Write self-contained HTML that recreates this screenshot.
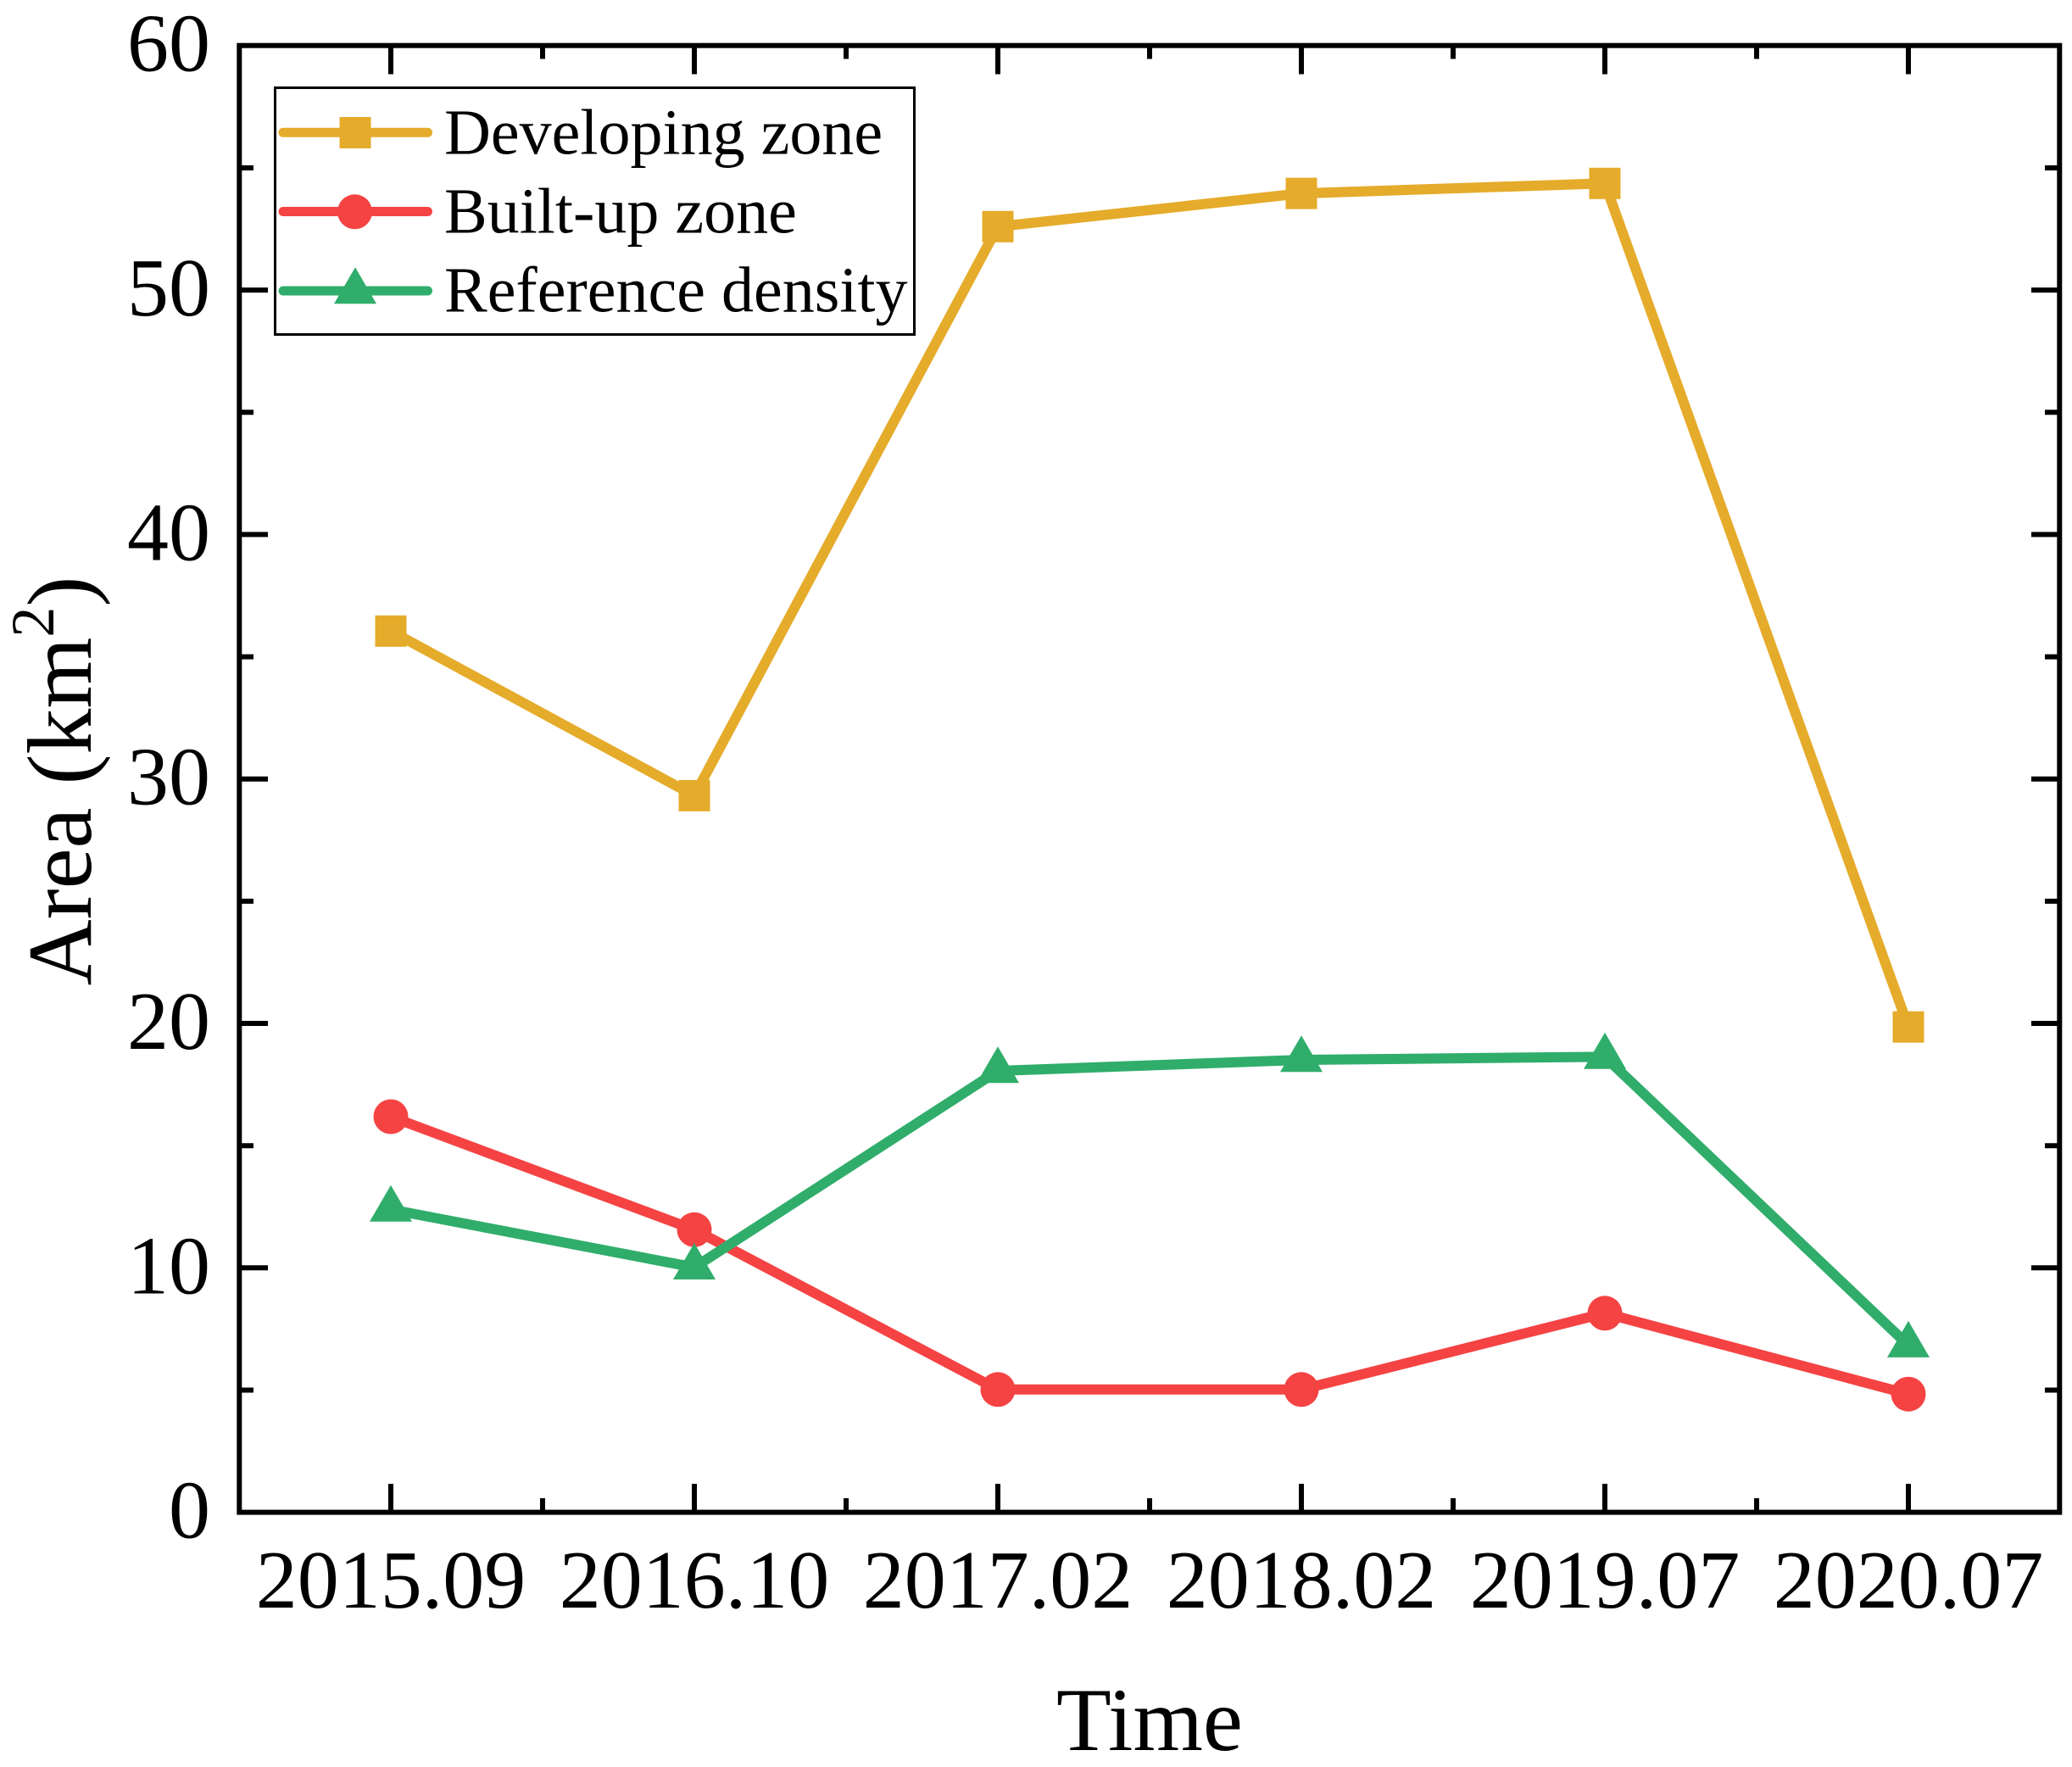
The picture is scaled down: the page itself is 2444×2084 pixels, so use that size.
<!DOCTYPE html>
<html>
<head>
<meta charset="utf-8">
<style>
  html, body { margin: 0; padding: 0; background: #ffffff; }
  svg { display: block; }
  text { font-family: "Liberation Serif", "Times New Roman", serif; fill: #000; }
</style>
</head>
<body>
<svg width="2444" height="2084" viewBox="0 0 2444 2084" xmlns="http://www.w3.org/2000/svg">
  <rect x="0" y="0" width="2444" height="2084" fill="#ffffff"/>

  <!-- Axis frame -->
  <rect x="282.3" y="53.7" width="2147" height="1729.9" fill="none" stroke="#000" stroke-width="6"/>

  <!-- Left axis ticks -->
  <g stroke="#000" stroke-width="6">
    <!-- major -->
    <line x1="282" y1="1495.3" x2="316" y2="1495.3"/>
    <line x1="282" y1="1207.0" x2="316" y2="1207.0"/>
    <line x1="282" y1="918.7" x2="316" y2="918.7"/>
    <line x1="282" y1="630.4" x2="316" y2="630.4"/>
    <line x1="282" y1="342.1" x2="316" y2="342.1"/>
    <!-- minor -->
    <line x1="282" y1="1639.5" x2="299" y2="1639.5"/>
    <line x1="282" y1="1351.2" x2="299" y2="1351.2"/>
    <line x1="282" y1="1062.9" x2="299" y2="1062.9"/>
    <line x1="282" y1="774.6" x2="299" y2="774.6"/>
    <line x1="282" y1="486.3" x2="299" y2="486.3"/>
    <line x1="282" y1="198.0" x2="299" y2="198.0"/>

    <!-- Right axis ticks -->
    <line x1="2430" y1="1495.3" x2="2396" y2="1495.3"/>
    <line x1="2430" y1="1207.0" x2="2396" y2="1207.0"/>
    <line x1="2430" y1="918.7" x2="2396" y2="918.7"/>
    <line x1="2430" y1="630.4" x2="2396" y2="630.4"/>
    <line x1="2430" y1="342.1" x2="2396" y2="342.1"/>
    <line x1="2430" y1="1639.5" x2="2412" y2="1639.5"/>
    <line x1="2430" y1="1351.2" x2="2412" y2="1351.2"/>
    <line x1="2430" y1="1062.9" x2="2412" y2="1062.9"/>
    <line x1="2430" y1="774.6" x2="2412" y2="774.6"/>
    <line x1="2430" y1="486.3" x2="2412" y2="486.3"/>
    <line x1="2430" y1="198.0" x2="2412" y2="198.0"/>

    <!-- Bottom axis ticks -->
    <line x1="461" y1="1784" x2="461" y2="1750"/>
    <line x1="819" y1="1784" x2="819" y2="1750"/>
    <line x1="1177" y1="1784" x2="1177" y2="1750"/>
    <line x1="1535" y1="1784" x2="1535" y2="1750"/>
    <line x1="1893" y1="1784" x2="1893" y2="1750"/>
    <line x1="2251" y1="1784" x2="2251" y2="1750"/>
    <line x1="640" y1="1784" x2="640" y2="1767"/>
    <line x1="998" y1="1784" x2="998" y2="1767"/>
    <line x1="1356" y1="1784" x2="1356" y2="1767"/>
    <line x1="1714" y1="1784" x2="1714" y2="1767"/>
    <line x1="2072" y1="1784" x2="2072" y2="1767"/>

    <!-- Top axis ticks -->
    <line x1="461" y1="53" x2="461" y2="87.5"/>
    <line x1="819" y1="53" x2="819" y2="87.5"/>
    <line x1="1177" y1="53" x2="1177" y2="87.5"/>
    <line x1="1535" y1="53" x2="1535" y2="87.5"/>
    <line x1="1893" y1="53" x2="1893" y2="87.5"/>
    <line x1="2251" y1="53" x2="2251" y2="87.5"/>
    <line x1="640" y1="53" x2="640" y2="69.5"/>
    <line x1="998" y1="53" x2="998" y2="69.5"/>
    <line x1="1356" y1="53" x2="1356" y2="69.5"/>
    <line x1="1714" y1="53" x2="1714" y2="69.5"/>
    <line x1="2072" y1="53" x2="2072" y2="69.5"/>
  </g>

  <!-- Y tick labels -->
  <g font-size="98" text-anchor="end">
    <text x="248" y="1813.5">0</text>
    <text x="248" y="1525.3">10</text>
    <text x="248" y="1237.0">20</text>
    <text x="248" y="948.7">30</text>
    <text x="248" y="660.4">40</text>
    <text x="248" y="372.1">50</text>
    <text x="248" y="83.5">60</text>
  </g>

  <!-- X tick labels -->
  <g font-size="98" text-anchor="middle">
    <text x="461" y="1896">2015.09</text>
    <text x="819" y="1896">2016.10</text>
    <text x="1177" y="1896">2017.02</text>
    <text x="1535" y="1896">2018.02</text>
    <text x="1893" y="1896">2019.07</text>
    <text x="2251" y="1896">2020.07</text>
  </g>

  <!-- Axis titles -->
  <text x="1356" y="2064" font-size="106" text-anchor="middle">Time</text>
  <text transform="translate(107,921) rotate(-90)" font-size="108" text-anchor="middle">Area (km<tspan font-size="72" dy="-44">2</tspan><tspan dy="44">)</tspan></text>

  <!-- Developing zone (yellow) -->
  <polyline fill="none" stroke="#E5AB2A" stroke-width="12" stroke-linejoin="round"
    points="461,744.3 819,938.4 1177,267.3 1535,228.1 1893,216.3 2251,1211.2"/>
  <g fill="#E5AB2A">
    <rect x="442.5" y="725.8" width="37" height="37"/>
    <rect x="800.5" y="919.9" width="37" height="37"/>
    <rect x="1158.5" y="248.8" width="37" height="37"/>
    <rect x="1516.5" y="209.6" width="37" height="37"/>
    <rect x="1874.5" y="197.8" width="37" height="37"/>
    <rect x="2232.5" y="1192.7" width="37" height="37"/>
  </g>

  <!-- Built-up zone (red) -->
  <polyline fill="none" stroke="#F54343" stroke-width="12" stroke-linejoin="round"
    points="461,1317 819,1450.3 1177,1638.8 1535,1638.8 1893,1548.8 2251,1644.2"/>
  <g fill="#F54343">
    <circle cx="461" cy="1317" r="20.5"/>
    <circle cx="819" cy="1450.3" r="20.5"/>
    <circle cx="1177" cy="1638.8" r="20.5"/>
    <circle cx="1535" cy="1638.8" r="20.5"/>
    <circle cx="1893" cy="1548.8" r="20.5"/>
    <circle cx="2251" cy="1644.2" r="20.5"/>
  </g>

  <!-- Reference density (green) -->
  <polyline fill="none" stroke="#30AD6B" stroke-width="12" stroke-linejoin="round"
    points="461,1426.5 819,1494.7 1177,1263 1535,1250 1893,1246.4 2251,1586.6"/>
  <g fill="#30AD6B">
    <polygon points="461,1397.8 486,1440.8 436,1440.8"/>
    <polygon points="819,1466 844,1509 794,1509"/>
    <polygon points="1177,1234.3 1202,1277.3 1152,1277.3"/>
    <polygon points="1535,1221.3 1560,1264.3 1510,1264.3"/>
    <polygon points="1893,1217.7 1918,1260.7 1868,1260.7"/>
    <polygon points="2251,1557.9 2276,1600.9 2226,1600.9"/>
  </g>

  <!-- Legend -->
  <rect x="324.5" y="103.5" width="754" height="291" fill="#ffffff" stroke="#000" stroke-width="3"/>
  <line x1="334" y1="156.3" x2="504.5" y2="156.3" stroke="#E5AB2A" stroke-width="11" stroke-linecap="round"/>
  <rect x="400.5" y="138" width="37" height="37" fill="#E5AB2A"/>
  <line x1="334" y1="249.5" x2="504.5" y2="249.5" stroke="#F54343" stroke-width="11" stroke-linecap="round"/>
  <circle cx="418.5" cy="249.8" r="20.5" fill="#F54343"/>
  <line x1="334" y1="343" x2="504.5" y2="343" stroke="#30AD6B" stroke-width="11" stroke-linecap="round"/>
  <polygon points="419,315.3 444,358.3 394,358.3" fill="#30AD6B"/>
  <g font-size="76">
    <text x="524" y="181.7">Developing zone</text>
    <text x="524" y="274.5">Built-up zone</text>
    <text x="524" y="367.7">Reference density</text>
  </g>
</svg>
</body>
</html>
